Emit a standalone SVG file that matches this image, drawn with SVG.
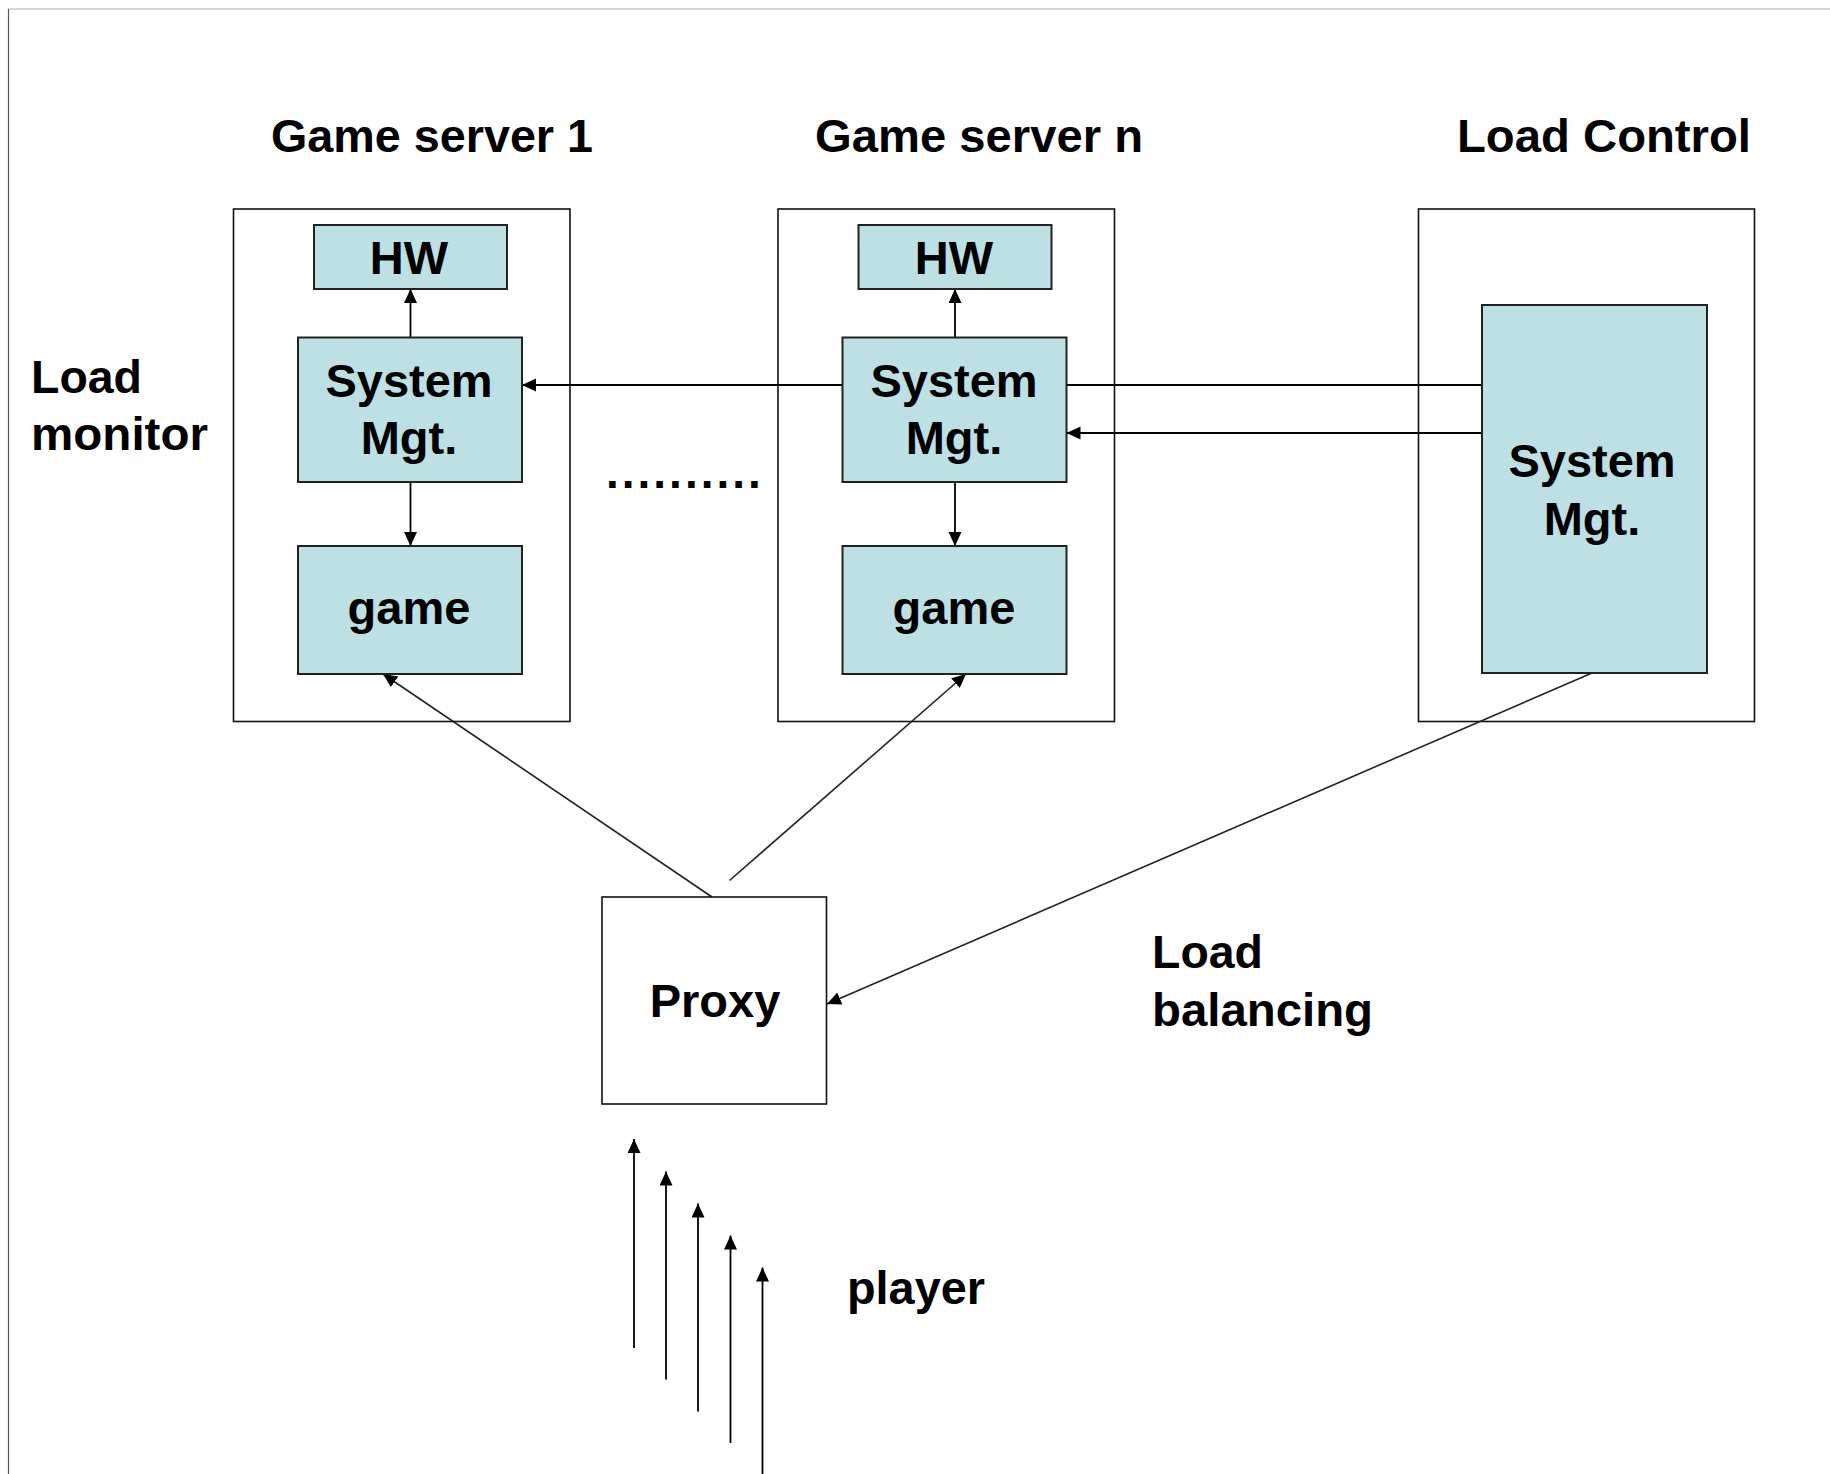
<svg xmlns="http://www.w3.org/2000/svg" width="1830" height="1474" viewBox="0 0 1830 1474">
<style>
text{font-family:"Liberation Sans",Arial,sans-serif;font-weight:bold;font-size:47px;fill:#000}
.c{text-anchor:middle}
.outer{fill:none;stroke:#111;stroke-width:1.6}
.inner{fill:#BCE0E3;stroke:#222;stroke-width:2}
.ln{fill:none;stroke:#000;stroke-width:1.8}
.dg{fill:none;stroke:#222;stroke-width:1.6}
</style>
<defs>
<marker id="ah" markerUnits="userSpaceOnUse" markerWidth="15" markerHeight="14" refX="14" refY="6.5" orient="auto">
<path d="M0,0 L14,6.5 L0,13 z" fill="#000"/>
</marker>
</defs>
<rect width="1830" height="1474" fill="#fff"/>
<g id="frame">
<line x1="8" y1="9" x2="1830" y2="9" stroke="#c8c8c8" stroke-width="1.5"/>
<line x1="8.5" y1="9" x2="8.5" y2="1474" stroke="#555" stroke-width="1.2"/>
</g>
<g id="titles">
<text x="271" y="152" textLength="322" lengthAdjust="spacingAndGlyphs">Game server 1</text>
<text x="815" y="152" textLength="328" lengthAdjust="spacingAndGlyphs">Game server n</text>
<text x="1457" y="152" textLength="294" lengthAdjust="spacingAndGlyphs">Load Control</text>
</g>
<g id="gs1"><rect class="outer" x="233.5" y="209" width="336.5" height="512.5"/></g>
<g id="gsn"><rect class="outer" x="778" y="209" width="336.5" height="512.5"/></g>
<g id="lc"><rect class="outer" x="1418.5" y="209" width="336" height="512.5"/></g>
<g id="connectors">
<line class="ln" x1="410.5" y1="337.5" x2="410.5" y2="289" marker-end="url(#ah)"/>
<line class="ln" x1="410.5" y1="482" x2="410.5" y2="546" marker-end="url(#ah)"/>
<line class="ln" x1="955" y1="337.5" x2="955" y2="289" marker-end="url(#ah)"/>
<line class="ln" x1="955" y1="482" x2="955" y2="546" marker-end="url(#ah)"/>
<line class="ln" x1="1482" y1="385" x2="522" y2="385" marker-end="url(#ah)"/>
<line class="ln" x1="1482" y1="433" x2="1066.5" y2="433" marker-end="url(#ah)"/>
<line class="dg" x1="712" y1="897" x2="383" y2="674" marker-end="url(#ah)"/>
<line class="dg" x1="729.5" y1="880.5" x2="966" y2="674" marker-end="url(#ah)"/>
<line class="dg" x1="1592" y1="673" x2="827" y2="1004" marker-end="url(#ah)"/>
<line class="ln" x1="634" y1="1348" x2="634" y2="1139" marker-end="url(#ah)"/>
<line class="ln" x1="666" y1="1379.5" x2="666" y2="1171.5" marker-end="url(#ah)"/>
<line class="ln" x1="698" y1="1411.5" x2="698" y2="1203.5" marker-end="url(#ah)"/>
<line class="ln" x1="730.5" y1="1443" x2="730.5" y2="1235.5" marker-end="url(#ah)"/>
<line class="ln" x1="762.5" y1="1474" x2="762.5" y2="1267.5" marker-end="url(#ah)"/>
</g>
<g id="hw1"><rect class="inner" x="314" y="225" width="193" height="64"/><text class="c" x="409" y="274">HW</text></g>
<g id="sm1"><rect class="inner" x="298" y="337.5" width="224" height="144.5"/><text class="c" x="409" y="397">System</text><text class="c" x="409" y="454">Mgt.</text></g>
<g id="game1"><rect class="inner" x="298" y="546" width="224" height="128"/><text class="c" x="409" y="624">game</text></g>
<g id="hwn"><rect class="inner" x="858.5" y="225" width="193" height="64"/><text class="c" x="954" y="274">HW</text></g>
<g id="smn"><rect class="inner" x="842.5" y="337.5" width="224" height="144.5"/><text class="c" x="954" y="397">System</text><text class="c" x="954" y="454">Mgt.</text></g>
<g id="gamen"><rect class="inner" x="842.5" y="546" width="224" height="128"/><text class="c" x="954" y="624">game</text></g>
<g id="lcsm"><rect class="inner" x="1482" y="305" width="225" height="368"/><text class="c" x="1592" y="477">System</text><text class="c" x="1592" y="535">Mgt.</text></g>
<g id="proxy"><rect class="outer" x="602" y="897" width="224.5" height="207" fill="#fff"/><text class="c" x="715" y="1017">Proxy</text></g>
<g id="labels">
<text x="31" y="393" textLength="111" lengthAdjust="spacingAndGlyphs">Load</text>
<text x="31" y="450" textLength="177" lengthAdjust="spacingAndGlyphs">monitor</text>
<text x="606" y="488" letter-spacing="3" style="font-size:46px">..........</text>
<text x="1152" y="968" textLength="111" lengthAdjust="spacingAndGlyphs">Load</text>
<text x="1152" y="1026" textLength="221" lengthAdjust="spacingAndGlyphs">balancing</text>
<text x="847" y="1304" textLength="138" lengthAdjust="spacingAndGlyphs">player</text>
</g>
</svg>
